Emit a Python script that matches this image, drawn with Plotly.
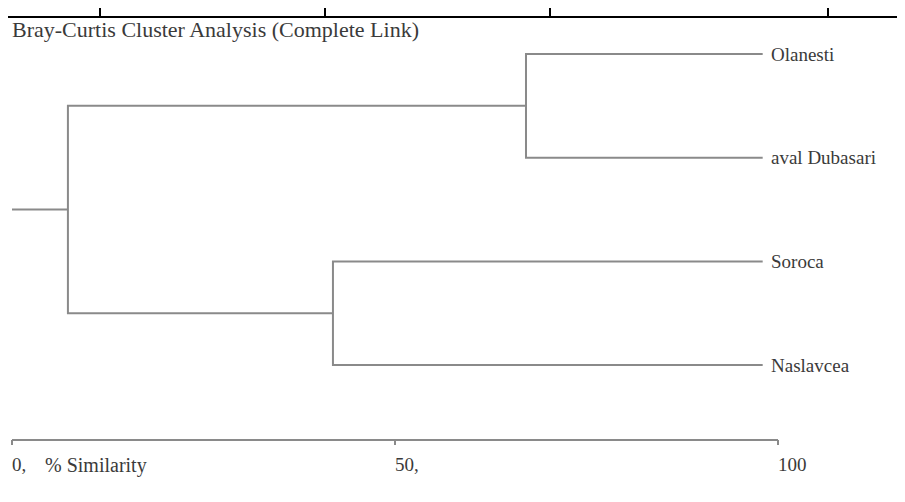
import plotly.graph_objects as go

# ---- data ----
leaf_labels = ["Olanesti", "aval Dubasari", "Soroca", "Naslavcea"]
# merges: (left child, right child, similarity %)
merge_left = ["Olanesti", "Soroca", "c1"]
merge_right = ["aval Dubasari", "Naslavcea", "c2"]
merge_sim = [67.1, 41.9, 7.3]
merge_names = ["c1", "c2", "root"]
leaf_sim = 98.0
axis_ticks = [0, 50, 100]
axis_tick_text = ["0,", "50,", "100"]
axis_title = "% Similarity"
title = "Bray-Curtis Cluster Analysis (Complete Link)"

# ---- style ----
OFF = 8  # page body margin
W, H = 905 - OFF, 502 - OFF
LINE = "#8a8a8a"
TXT = "#3a3a3a"
FONT = "Liberation Serif, Times New Roman, DejaVu Serif, serif"
PX_PER_UNIT = 7.66
X0PX = 12 - OFF
Y0PX = 54 - OFF
ROWPX = 103.7
AXIS_PX = 440 - OFF

def ypos(px):
    return (px - Y0PX) / ROWPX

fig = go.Figure()

pos = {}
for i, lab in enumerate(leaf_labels):
    pos[lab] = (leaf_sim, i)

def seg(xs, ys):
    fig.add_trace(go.Scatter(x=xs, y=ys, mode="lines",
                             line=dict(color=LINE, width=2),
                             hoverinfo="skip", showlegend=False))

for l, r, s, n in zip(merge_left, merge_right, merge_sim, merge_names):
    xl, yl = pos[l]
    xr, yr = pos[r]
    seg([xl, s, s, xr], [yl, yl, yr, yr])
    pos[n] = (s, (yl + yr) / 2)

rx, ry = pos["root"]
seg([axis_ticks[0], rx], [ry, ry])

for lab in leaf_labels:
    x, y = pos[lab]
    fig.add_annotation(x=x, y=y, text=lab, showarrow=False, xanchor="left",
                       xshift=6, yanchor="middle",
                       font=dict(family=FONT, size=19, color=TXT))

ay = ypos(AXIS_PX)
tick_len = 5 / ROWPX
seg([axis_ticks[0], axis_ticks[-1]], [ay, ay])
for t, tt in zip(axis_ticks, axis_tick_text):
    seg([t, t], [ay, ay + tick_len])
    fig.add_annotation(x=t, y=ay, text=tt, showarrow=False, xanchor="left",
                       yanchor="top", yshift=-12, xshift=-2,
                       font=dict(family=FONT, size=19, color=TXT))
fig.add_annotation(x=axis_ticks[0], y=ay, text=axis_title, showarrow=False,
                   xanchor="left", yanchor="top", yshift=-12, xshift=31,
                   font=dict(family=FONT, size=20, color=TXT))

fig.add_annotation(x=(10 - OFF) / W, y=1 - (30 - OFF) / H, xref="paper", yref="paper",
                   text=title, showarrow=False, xanchor="left", yanchor="middle",
                   font=dict(family=FONT, size=22, color=TXT))

top_y = 1 - (17 - OFF) / H
shapes = [dict(type="line", xref="paper", yref="paper", x0=0, x1=1,
               y0=top_y, y1=top_y, line=dict(color="#000", width=2))]
for vx in [100, 325, 550, 828]:
    shapes.append(dict(type="line", xref="paper", yref="paper",
                       x0=(vx - OFF) / W, x1=(vx - OFF) / W,
                       y0=1, y1=top_y, line=dict(color="#000", width=2)))

fig.update_layout(
    width=W, height=H,
    margin=dict(l=0, r=0, t=0, b=0),
    paper_bgcolor="white", plot_bgcolor="white",
    shapes=shapes,
    xaxis=dict(range=[-X0PX / PX_PER_UNIT, (W - X0PX) / PX_PER_UNIT],
               visible=False, fixedrange=True),
    yaxis=dict(range=[ypos(H), ypos(0)], visible=False, fixedrange=True),
)

fig.write_html("out.html")
